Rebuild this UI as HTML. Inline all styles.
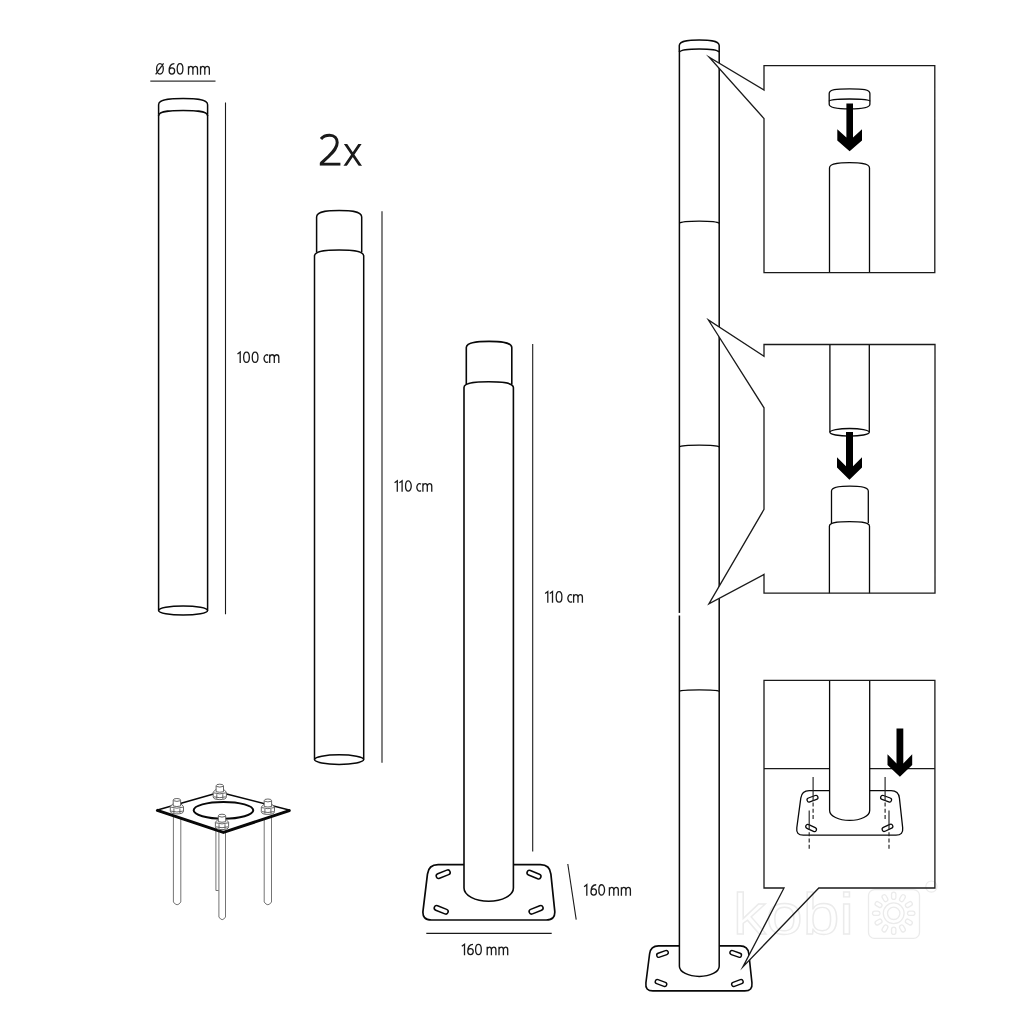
<!DOCTYPE html>
<html><head><meta charset="utf-8"><style>
html,body{margin:0;padding:0;background:#fff;}
svg{display:block;filter:grayscale(1);}
</style></head><body>
<svg width="1024" height="1024" viewBox="0 0 1024 1024">
<rect width="1024" height="1024" fill="#fff"/>
<g stroke="#1a1a1a" stroke-width="1.1" fill="none">
<line x1="150.3" y1="81.1" x2="215.5" y2="81.1" stroke="#333" stroke-width="1.3"/>
<line x1="225.5" y1="102.4" x2="225.5" y2="614.2"/>
<line x1="382" y1="211.2" x2="382" y2="762.7"/>
<line x1="532.7" y1="344" x2="532.7" y2="851.4"/>
<line x1="426.3" y1="933.4" x2="551.7" y2="933.4"/>
<line x1="567.8" y1="864" x2="576.2" y2="919.6"/>
</g>
<g font-family="Liberation Sans, sans-serif">
<path d="M156.60,68.85 A3.35,5.20 0 1 0 163.30,68.85 A3.35,5.20 0 1 0 156.60,68.85 M155.65,74.40 L163.55,63.30 M169.15,71.00 A2.75,3.05 0 1 0 174.65,71.00 A2.75,3.05 0 1 0 169.15,71.00 M169.15,71.00 C169.15,66.20 170.70,63.65 174.40,63.65 M177.20,68.85 A2.85,5.20 0 1 0 182.90,68.85 A2.85,5.20 0 1 0 177.20,68.85 M188.50,66.15 L188.50,74.70 M188.50,68.75 C189.00,67.05 189.70,66.45 190.70,66.45 C192.00,66.45 192.90,67.35 192.90,69.05 L192.90,74.70 M192.90,68.75 C193.40,67.05 194.10,66.45 195.20,66.45 C196.60,66.45 197.50,67.35 197.50,69.05 L197.50,74.70 M200.55,66.15 L200.55,74.70 M200.55,68.75 C201.05,67.05 201.75,66.45 202.68,66.45 C203.90,66.45 204.80,67.35 204.80,69.05 L204.80,74.70 M204.80,68.75 C205.30,67.05 206.00,66.45 207.07,66.45 C208.45,66.45 209.35,67.35 209.35,69.05 L209.35,74.70 M237.50,353.95 L240.20,351.95 L240.20,363.00 M243.65,357.20 A2.85,5.15 0 1 0 249.35,357.20 A2.85,5.15 0 1 0 243.65,357.20 M252.25,357.20 A2.85,5.15 0 1 0 257.95,357.20 A2.85,5.15 0 1 0 252.25,357.20 M268.17,355.46 A2.55,3.80 0 1 0 268.17,361.64 M269.70,354.45 L269.70,363.00 M269.70,357.05 C270.20,355.35 270.90,354.75 272.00,354.75 C273.40,354.75 274.30,355.65 274.30,357.35 L274.30,363.00 M274.30,357.05 C274.80,355.35 275.50,354.75 276.55,354.75 C277.90,354.75 278.80,355.65 278.80,357.35 L278.80,363.00 M394.60,482.85 L397.30,480.85 L397.30,491.80 M399.40,482.85 L402.10,480.85 L402.10,491.80 M405.55,486.05 A2.85,5.10 0 1 0 411.25,486.05 A2.85,5.10 0 1 0 405.55,486.05 M420.97,484.26 A2.55,3.80 0 1 0 420.97,490.44 M422.90,483.25 L422.90,491.80 M422.90,485.85 C423.40,484.15 424.10,483.55 425.10,483.55 C426.40,483.55 427.30,484.45 427.30,486.15 L427.30,491.80 M427.30,485.85 C427.80,484.15 428.50,483.55 429.52,483.55 C430.85,483.55 431.75,484.45 431.75,486.15 L431.75,491.80 M545.10,593.55 L547.80,591.55 L547.80,602.80 M549.80,593.55 L552.50,591.55 L552.50,602.80 M556.20,596.90 A2.85,5.25 0 1 0 561.90,596.90 A2.85,5.25 0 1 0 556.20,596.90 M571.97,595.26 A2.55,3.80 0 1 0 571.97,601.44 M573.60,594.25 L573.60,602.80 M573.60,596.85 C574.10,595.15 574.80,594.55 575.80,594.55 C577.10,594.55 578.00,595.45 578.00,597.15 L578.00,602.80 M578.00,596.85 C578.50,595.15 579.20,594.55 580.20,594.55 C581.50,594.55 582.40,595.45 582.40,597.15 L582.40,602.80 M461.80,946.35 L464.50,944.35 L464.50,955.30 M467.75,951.60 A2.75,3.05 0 1 0 473.25,951.60 A2.75,3.05 0 1 0 467.75,951.60 M467.75,951.60 C467.75,947.00 469.30,944.45 473.00,944.45 M475.60,949.55 A2.85,5.10 0 1 0 481.30,949.55 A2.85,5.10 0 1 0 475.60,949.55 M487.20,946.75 L487.20,955.30 M487.20,949.35 C487.70,947.65 488.40,947.05 489.30,947.05 C490.50,947.05 491.40,947.95 491.40,949.65 L491.40,955.30 M491.40,949.35 C491.90,947.65 492.60,947.05 493.65,947.05 C495.00,947.05 495.90,947.95 495.90,949.65 L495.90,955.30 M499.00,946.75 L499.00,955.30 M499.00,949.35 C499.50,947.65 500.20,947.05 501.20,947.05 C502.50,947.05 503.40,947.95 503.40,949.65 L503.40,955.30 M503.40,949.35 C503.90,947.65 504.60,947.05 505.55,947.05 C506.80,947.05 507.70,947.95 507.70,949.65 L507.70,955.30 M584.10,886.65 L586.80,884.65 L586.80,895.70 M590.95,892.00 A2.75,3.05 0 1 0 596.45,892.00 A2.75,3.05 0 1 0 590.95,892.00 M590.95,892.00 C590.95,887.30 592.50,884.75 596.20,884.75 M598.85,889.90 A2.85,5.15 0 1 0 604.55,889.90 A2.85,5.15 0 1 0 598.85,889.90 M609.40,887.15 L609.40,895.70 M609.40,889.75 C609.90,888.05 610.60,887.45 611.60,887.45 C612.90,887.45 613.80,888.35 613.80,890.05 L613.80,895.70 M613.80,889.75 C614.30,888.05 615.00,887.45 616.05,887.45 C617.40,887.45 618.30,888.35 618.30,890.05 L618.30,895.70 M621.40,887.15 L621.40,895.70 M621.40,889.75 C621.90,888.05 622.60,887.45 623.65,887.45 C625.00,887.45 625.90,888.35 625.90,890.05 L625.90,895.70 M625.90,889.75 C626.40,888.05 627.10,887.45 628.15,887.45 C629.50,887.45 630.40,888.35 630.40,890.05 L630.40,895.70 " fill="none" stroke="#1a1a1a" stroke-width="1.3" stroke-linecap="butt"/>
<defs><clipPath id="cx"><rect x="340" y="144" width="25" height="21.7"/></clipPath><clipPath id="c2"><rect x="315" y="128" width="30" height="37.7"/></clipPath></defs>
<path clip-path="url(#c2)" d="M321.0,139.0 C323,136.3 326.3,135.2 329.6,135.2 C334.4,135.2 337.2,138.4 337.2,142.6 C337.2,147.6 334.0,151.2 328.6,156.4 L321.0,163.4 M319.8,164.2 L340.4,164.2" fill="none" stroke="#1a1a1a" stroke-width="3.0"/>
<path clip-path="url(#cx)" d="M344.2,142 L361.6,167.7 M361.3,142 L343.9,167.7" fill="none" stroke="#1a1a1a" stroke-width="2.75"/>
</g>
<g stroke="#080808" stroke-width="1.5" fill="none">
<path d="M158.60,114.50 L158.60,104.70 C158.60,98.60 174.03,98.60 183.10,98.60 C192.16,98.60 207.60,98.60 207.60,104.70 L207.60,114.50"/>
<path d="M158.60,116.00 L158.60,115.80 C158.60,110.40 174.03,110.40 183.10,110.40 C192.16,110.40 207.60,110.40 207.60,115.80 L207.60,116.00"/>
<path d="M158.6,114.5 L158.6,610.5 M207.6,114.5 L207.6,610.5"/>
<ellipse cx="183.1" cy="610.5" rx="24.5" ry="4.6"/>
</g>
<g stroke="#080808" stroke-width="1.5" fill="none">
<path d="M316.60,252.00 L316.60,217.00 C316.60,210.50 330.81,210.50 339.15,210.50 C347.49,210.50 361.70,210.50 361.70,217.00 L361.70,252.00"/>
<path d="M314.50,258.00 L314.50,256.00 C314.50,249.90 330.00,249.90 339.10,249.90 C348.20,249.90 363.70,249.90 363.70,256.00 L363.70,258.00"/>
<path d="M314.5,258 L314.5,759.6 M363.7,258 L363.7,759.6"/>
<ellipse cx="339.1" cy="759.6" rx="24.6" ry="4.8"/>
</g>
<path d="M427.46,874.03 Q428.60,864.60 438.10,864.60 L540.40,864.60 Q549.90,864.60 550.89,874.05 L554.71,910.55 Q555.70,920.00 546.20,920.00 L431.40,920.00 Q421.90,920.00 423.04,910.57 Z" fill="#fff" stroke="#080808" stroke-width="1.7"/>
<line x1="438.66" y1="876.04" x2="447.74" y2="872.36" stroke="#080808" stroke-width="6.4" stroke-linecap="round"/><line x1="438.66" y1="876.04" x2="447.74" y2="872.36" stroke="#fff" stroke-width="3.3" stroke-linecap="round"/>
<line x1="529.46" y1="872.76" x2="538.54" y2="876.44" stroke="#080808" stroke-width="6.4" stroke-linecap="round"/><line x1="529.46" y1="872.76" x2="538.54" y2="876.44" stroke="#fff" stroke-width="3.3" stroke-linecap="round"/>
<line x1="436.66" y1="907.96" x2="445.74" y2="911.64" stroke="#080808" stroke-width="6.4" stroke-linecap="round"/><line x1="436.66" y1="907.96" x2="445.74" y2="911.64" stroke="#fff" stroke-width="3.3" stroke-linecap="round"/>
<line x1="531.56" y1="911.64" x2="540.64" y2="907.96" stroke="#080808" stroke-width="6.4" stroke-linecap="round"/><line x1="531.56" y1="911.64" x2="540.64" y2="907.96" stroke="#fff" stroke-width="3.3" stroke-linecap="round"/>
<g stroke="#080808" stroke-width="1.6" fill="#fff">
<path d="M466.30,384.00 L466.30,347.60 C466.30,341.40 480.63,341.40 489.05,341.40 C497.47,341.40 511.80,341.40 511.80,347.60 L511.80,384.00"/>
<path d="M464.00,888.00 L464.00,387.60 C464.00,381.80 479.56,381.80 488.70,381.80 C497.84,381.80 513.40,381.80 513.40,387.60 L513.40,888.00 A24.7,13.2 0 0 1 464,888 Z"/>
</g>
<g fill="#fff" stroke="#505050" stroke-width="0.8">
<path d="M215.9,826 L215.9,890.5 L218.6,890.5"/>
<path d="M173.4,812 L173.4,902 Q177.1,907.5 180.8,902 L180.8,812"/>
<path d="M264.2,812 L264.2,902 Q267.9,907.5 271.5,902 L271.5,812"/>
<path d="M218.9,830 L218.9,917 Q222.2,922.3 225.5,917 L225.5,830"/>
</g>
<path d="M156.6,810.2 L219.7,792.2 L290.1,810.3 L223.4,832.4 Z" fill="#fff" stroke="#080808" stroke-width="1.5" stroke-linejoin="round"/>
<path d="M156.6,810.2 L223.4,832.4 L290.1,810.3" fill="none" stroke="#080808" stroke-width="3" stroke-linejoin="round"/>
<ellipse cx="223.45" cy="810.3" rx="29.8" ry="8.4" fill="none" stroke="#080808" stroke-width="2"/>
<g fill="#fff" stroke="#555" stroke-width="0.9"><path d="M216.10000000000002,789.2 L213.20000000000002,792.2 L213.20000000000002,796.8000000000001 Q213.20000000000002,799.6 219.8,799.6 Q226.4,799.6 226.4,796.8000000000001 L226.4,792.2 L223.5,789.2 Z"/><path d="M213.60000000000002,792.8000000000001 Q219.8,795.0 226.0,792.8000000000001 M216.8,794.2 L216.8,798.8000000000001 M222.8,794.2 L222.8,798.8000000000001 M213.8,796.8000000000001 Q219.8,798.6 225.8,796.8000000000001" fill="none"/><path d="M216.10000000000002,791.7 L216.10000000000002,785.8000000000001 Q216.10000000000002,784.2 219.8,784.2 Q223.5,784.2 223.5,785.8000000000001 L223.5,791.7 Q219.8,792.8000000000001 216.10000000000002,791.7 Z"/><path d="M216.4,786.4000000000001 Q219.8,787.8000000000001 223.20000000000002,786.4000000000001" fill="none"/></g>
<g fill="#fff" stroke="#555" stroke-width="0.9"><path d="M173.20000000000002,803.5 L170.3,806.5 L170.3,811.1 Q170.3,813.9 176.9,813.9 Q183.5,813.9 183.5,811.1 L183.5,806.5 L180.6,803.5 Z"/><path d="M170.70000000000002,807.1 Q176.9,809.3 183.1,807.1 M173.9,808.5 L173.9,813.1 M179.9,808.5 L179.9,813.1 M170.9,811.1 Q176.9,812.9 182.9,811.1" fill="none"/><path d="M173.20000000000002,806.0 L173.20000000000002,800.1 Q173.20000000000002,798.5 176.9,798.5 Q180.6,798.5 180.6,800.1 L180.6,806.0 Q176.9,807.1 173.20000000000002,806.0 Z"/><path d="M173.5,800.7 Q176.9,802.1 180.3,800.7" fill="none"/></g>
<g fill="#fff" stroke="#555" stroke-width="0.9"><path d="M264.2,804 L261.29999999999995,807 L261.29999999999995,811.6 Q261.29999999999995,814.4 267.9,814.4 Q274.5,814.4 274.5,811.6 L274.5,807 L271.59999999999997,804 Z"/><path d="M261.7,807.6 Q267.9,809.8 274.09999999999997,807.6 M264.9,809 L264.9,813.6 M270.9,809 L270.9,813.6 M261.9,811.6 Q267.9,813.4 273.9,811.6" fill="none"/><path d="M264.2,806.5 L264.2,800.6 Q264.2,799 267.9,799 Q271.59999999999997,799 271.59999999999997,800.6 L271.59999999999997,806.5 Q267.9,807.6 264.2,806.5 Z"/><path d="M264.5,801.2 Q267.9,802.6 271.29999999999995,801.2" fill="none"/></g>
<g fill="#fff" stroke="#555" stroke-width="0.9"><path d="M218.3,819.2 L215.4,822.2 L215.4,826.8000000000001 Q215.4,829.6 222.0,829.6 Q228.6,829.6 228.6,826.8000000000001 L228.6,822.2 L225.7,819.2 Z"/><path d="M215.8,822.8000000000001 Q222.0,825.0 228.2,822.8000000000001 M219.0,824.2 L219.0,828.8000000000001 M225.0,824.2 L225.0,828.8000000000001 M216.0,826.8000000000001 Q222.0,828.6 228.0,826.8000000000001" fill="none"/><path d="M218.3,821.7 L218.3,815.8000000000001 Q218.3,814.2 222.0,814.2 Q225.7,814.2 225.7,815.8000000000001 L225.7,821.7 Q222.0,822.8000000000001 218.3,821.7 Z"/><path d="M218.6,816.4000000000001 Q222.0,817.8000000000001 225.4,816.4000000000001" fill="none"/></g>
<path d="M649.59,953.84 Q650.60,945.90 658.60,945.90 L740.00,945.90 Q748.00,945.90 748.85,953.85 L751.95,982.95 Q752.80,990.90 744.80,990.90 L652.90,990.90 Q644.90,990.90 645.91,982.96 Z" fill="#fff" stroke="#080808" stroke-width="1.6"/>
<line x1="658.84" y1="955.23" x2="666.16" y2="952.57" stroke="#080808" stroke-width="5.6" stroke-linecap="round"/><line x1="658.84" y1="955.23" x2="666.16" y2="952.57" stroke="#fff" stroke-width="2.8" stroke-linecap="round"/>
<line x1="732.04" y1="952.57" x2="739.36" y2="955.23" stroke="#080808" stroke-width="5.6" stroke-linecap="round"/><line x1="732.04" y1="952.57" x2="739.36" y2="955.23" stroke="#fff" stroke-width="2.8" stroke-linecap="round"/>
<line x1="657.34" y1="981.67" x2="664.66" y2="984.33" stroke="#080808" stroke-width="5.6" stroke-linecap="round"/><line x1="657.34" y1="981.67" x2="664.66" y2="984.33" stroke="#fff" stroke-width="2.8" stroke-linecap="round"/>
<line x1="733.74" y1="984.33" x2="741.06" y2="981.67" stroke="#080808" stroke-width="5.6" stroke-linecap="round"/><line x1="733.74" y1="984.33" x2="741.06" y2="981.67" stroke="#fff" stroke-width="2.8" stroke-linecap="round"/>
<g stroke="#080808" stroke-width="1.5" fill="#fff">
<path d="M679.30,52.00 L679.30,45.60 C679.30,40.00 691.87,40.00 699.25,40.00 C706.63,40.00 719.20,40.00 719.20,45.60 L719.20,52.00"/>
<path d="M679.4,966.25 L679.4,52 C681,49.6 690,48.9 699.2,48.9 C708.5,48.9 717.5,49.6 719.2,52 L719.2,966.25 A19.9,10.15 0 0 1 679.4,966.25 Z"/>
<rect x="678" y="612.9" width="3" height="2.6" fill="#fff" stroke="none"/>
<path d="M679.3,223.4 C681,221.7 690,221.2 699.2,221.2 C708.5,221.2 717.5,221.7 719.2,223.4" fill="none" stroke-width="1.3"/>
<path d="M679.3,446.9 C681,445.6 690,445.2 699.2,445.2 C708.5,445.2 717.5,445.6 719.2,446.9" fill="none" stroke-width="1.3"/>
<path d="M679.3,691.3 C681,690.2 690,689.9 699.2,689.9 C708.5,689.9 717.5,690.2 719.2,691.3" fill="none" stroke-width="1.3"/>
</g>
<g fill="#fff" stroke="none">
<path d="M764,65.7 L934.8,65.7 L934.8,272.7 L764,272.7 L764,118.6 L709.2,57.3 L764,90 Z"/>
<path d="M764,344.5 L935,344.5 L935,593.2 L764,593.2 L764,574.4 L708.9,603.8 L764,509.4 L764,407.8 L708.4,320 L764,356.25 Z"/>
<path d="M764,680.3 L934.9,680.3 L934.9,888 L818.8,888 L742.9,966.9 L784,888 L764,888 Z"/>
</g>
<g stroke="#080808" stroke-width="1.3" fill="#fff">
<path d="M829.2,104.2 L829.2,93.5 C829.2,89.3 836,88.9 849.5,88.9 C863,88.9 869.9,89.3 869.9,93.5 L869.9,104.2 C869.9,107.6 862,108.8 849.5,108.8 C837,108.8 829.2,107.6 829.2,104.2 Z"/>
<path d="M829.2,101.3 C829.2,99.7 837,99 849.5,99 C862,99 869.9,99.7 869.9,101.3" fill="none"/>
<path d="M829.50,272.70 L829.50,168.00 C829.50,162.70 842.10,162.70 849.50,162.70 C856.90,162.70 869.50,162.70 869.50,168.00 L869.50,272.70"/>
</g>
<polygon points="846.4,103.5 853,103.5 853,137.6 862,129.2 862,140.6 849.6,151.2 837.3,140.6 837.3,129.2 846.4,137.6" fill="#000"/>
<g stroke="#080808" stroke-width="1.3" fill="#fff">
<path d="M829.9,344.5 L829.9,432.3 M869.3,344.5 L869.3,432.3"/>
<ellipse cx="849.6" cy="432.3" rx="19.7" ry="3.8"/>
<path d="M831.50,523.00 L831.50,491.10 C831.50,486.20 843.09,486.20 849.90,486.20 C856.71,486.20 868.30,486.20 868.30,491.10 L868.30,523.00"/>
<path d="M829.40,593.20 L829.40,526.20 C829.40,521.60 842.03,521.60 849.45,521.60 C856.87,521.60 869.50,521.60 869.50,526.20 L869.50,593.20"/>
</g>
<polygon points="846,432 853,432 853,466.3 862,457.3 862,467.5 849.4,479.8 837,467.5 837,457.3 846,466.3" fill="#000"/>
<line x1="764" y1="768.7" x2="934.9" y2="768.7" stroke="#1a1a1a" stroke-width="1.3"/>
<path d="M800.80,798.13 Q801.80,790.70 809.30,790.70 L891.10,790.70 Q898.60,790.70 899.42,798.15 L902.68,827.75 Q903.50,835.20 896.00,835.20 L803.30,835.20 Q795.80,835.20 796.80,827.77 Z" fill="#fff" stroke="#080808" stroke-width="1.3"/>
<line x1="809.12" y1="799.93" x2="815.88" y2="797.47" stroke="#080808" stroke-width="5.4" stroke-linecap="round"/><line x1="809.12" y1="799.93" x2="815.88" y2="797.47" stroke="#fff" stroke-width="2.9" stroke-linecap="round"/>
<line x1="882.72" y1="797.47" x2="889.48" y2="799.93" stroke="#080808" stroke-width="5.4" stroke-linecap="round"/><line x1="882.72" y1="797.47" x2="889.48" y2="799.93" stroke="#fff" stroke-width="2.9" stroke-linecap="round"/>
<line x1="807.84" y1="826.48" x2="814.36" y2="829.52" stroke="#080808" stroke-width="5.4" stroke-linecap="round"/><line x1="807.84" y1="826.48" x2="814.36" y2="829.52" stroke="#fff" stroke-width="2.9" stroke-linecap="round"/>
<line x1="884.24" y1="829.32" x2="890.76" y2="826.28" stroke="#080808" stroke-width="5.4" stroke-linecap="round"/><line x1="884.24" y1="829.32" x2="890.76" y2="826.28" stroke="#fff" stroke-width="2.9" stroke-linecap="round"/>
<g stroke="#222" stroke-width="1.15" fill="none">
<line x1="813.1" y1="777" x2="813.1" y2="801"/>
<line x1="813.1" y1="802.5" x2="813.1" y2="821" stroke-dasharray="4,2.3"/>
<line x1="885.1" y1="777" x2="885.1" y2="801"/>
<line x1="885.1" y1="802.5" x2="885.1" y2="821" stroke-dasharray="4,2.3"/>
<line x1="809.2" y1="810.4" x2="809.2" y2="830"/>
<line x1="809.2" y1="832.2" x2="809.2" y2="849.3" stroke-dasharray="4,2.3"/>
<line x1="889" y1="810.4" x2="889" y2="830"/>
<line x1="889" y1="832.2" x2="889" y2="849.3" stroke-dasharray="4,2.3"/>
</g>
<path d="M829.6,680.3 L829.6,810.4 A20.05,10 0 0 0 869.7,810.4 L869.7,680.3" fill="#fff" stroke="#080808" stroke-width="1.3"/>
<polygon points="896.5,728.6 903.3,728.6 903.3,763.6 912.2,754.2 912.2,765.0 899.9,776.8 887.5,765.0 887.5,754.2 896.5,763.6" fill="#000"/>
<g opacity="1">
<text x="733" y="934" font-family="Liberation Sans, sans-serif" font-size="58" fill="none" stroke="#ebebeb" stroke-width="1.3" textLength="121" lengthAdjust="spacingAndGlyphs">kobi</text>
<rect x="868.5" y="889.6" width="51" height="48.8" rx="6" fill="none" stroke="#ebebeb" stroke-width="1.3"/>
<circle cx="893.7" cy="913.3" r="6.2" fill="none" stroke="#ebebeb" stroke-width="1.3"/>
<circle cx="893.7" cy="913.3" r="10.4" fill="none" stroke="#ebebeb" stroke-width="1.3"/>
<line x1="909.70" y1="913.30" x2="912.70" y2="913.30" stroke="#ebebeb" stroke-width="5.6" stroke-linecap="round"/>
<line x1="909.70" y1="913.30" x2="912.70" y2="913.30" stroke="#fff" stroke-width="3.0" stroke-linecap="round"/>
<line x1="907.56" y1="921.30" x2="910.15" y2="922.80" stroke="#ebebeb" stroke-width="5.6" stroke-linecap="round"/>
<line x1="907.56" y1="921.30" x2="910.15" y2="922.80" stroke="#fff" stroke-width="3.0" stroke-linecap="round"/>
<line x1="901.70" y1="927.16" x2="903.20" y2="929.75" stroke="#ebebeb" stroke-width="5.6" stroke-linecap="round"/>
<line x1="901.70" y1="927.16" x2="903.20" y2="929.75" stroke="#fff" stroke-width="3.0" stroke-linecap="round"/>
<line x1="893.70" y1="929.30" x2="893.70" y2="932.30" stroke="#ebebeb" stroke-width="5.6" stroke-linecap="round"/>
<line x1="893.70" y1="929.30" x2="893.70" y2="932.30" stroke="#fff" stroke-width="3.0" stroke-linecap="round"/>
<line x1="885.70" y1="927.16" x2="884.20" y2="929.75" stroke="#ebebeb" stroke-width="5.6" stroke-linecap="round"/>
<line x1="885.70" y1="927.16" x2="884.20" y2="929.75" stroke="#fff" stroke-width="3.0" stroke-linecap="round"/>
<line x1="879.84" y1="921.30" x2="877.25" y2="922.80" stroke="#ebebeb" stroke-width="5.6" stroke-linecap="round"/>
<line x1="879.84" y1="921.30" x2="877.25" y2="922.80" stroke="#fff" stroke-width="3.0" stroke-linecap="round"/>
<line x1="877.70" y1="913.30" x2="874.70" y2="913.30" stroke="#ebebeb" stroke-width="5.6" stroke-linecap="round"/>
<line x1="877.70" y1="913.30" x2="874.70" y2="913.30" stroke="#fff" stroke-width="3.0" stroke-linecap="round"/>
<line x1="879.84" y1="905.30" x2="877.25" y2="903.80" stroke="#ebebeb" stroke-width="5.6" stroke-linecap="round"/>
<line x1="879.84" y1="905.30" x2="877.25" y2="903.80" stroke="#fff" stroke-width="3.0" stroke-linecap="round"/>
<line x1="885.70" y1="899.44" x2="884.20" y2="896.85" stroke="#ebebeb" stroke-width="5.6" stroke-linecap="round"/>
<line x1="885.70" y1="899.44" x2="884.20" y2="896.85" stroke="#fff" stroke-width="3.0" stroke-linecap="round"/>
<line x1="893.70" y1="897.30" x2="893.70" y2="894.30" stroke="#ebebeb" stroke-width="5.6" stroke-linecap="round"/>
<line x1="893.70" y1="897.30" x2="893.70" y2="894.30" stroke="#fff" stroke-width="3.0" stroke-linecap="round"/>
<line x1="901.70" y1="899.44" x2="903.20" y2="896.85" stroke="#ebebeb" stroke-width="5.6" stroke-linecap="round"/>
<line x1="901.70" y1="899.44" x2="903.20" y2="896.85" stroke="#fff" stroke-width="3.0" stroke-linecap="round"/>
<line x1="907.56" y1="905.30" x2="910.15" y2="903.80" stroke="#ebebeb" stroke-width="5.6" stroke-linecap="round"/>
<line x1="907.56" y1="905.30" x2="910.15" y2="903.80" stroke="#fff" stroke-width="3.0" stroke-linecap="round"/>
<circle cx="931.4" cy="886.6" r="5.6" fill="none" stroke="#ebebeb" stroke-width="1.2"/>
</g>
<g stroke="#1a1a1a" stroke-width="1.3" fill="none" stroke-linejoin="miter" stroke-miterlimit="20">
<path d="M764,65.7 L934.8,65.7 L934.8,272.7 L764,272.7 L764,118.6 L709.2,57.3 L764,90 Z"/>
<path d="M764,344.5 L935,344.5 L935,593.2 L764,593.2 L764,574.4 L708.9,603.8 L764,509.4 L764,407.8 L708.4,320 L764,356.25 Z"/>
<path d="M764,680.3 L934.9,680.3 L934.9,888 L818.8,888 L742.9,966.9 L784,888 L764,888 Z"/>
</g>
</svg>
</body></html>
